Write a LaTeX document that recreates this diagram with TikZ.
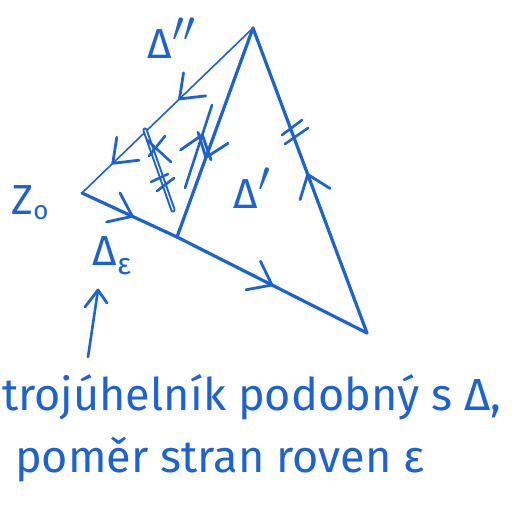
\documentclass[tikz,border=0pt]{standalone}
\usepackage{fontspec}
\setmainfont{Fira Sans}
\usetikzlibrary{arrows.meta,decorations.markings,calc}
\definecolor{ink}{RGB}{28,98,210}
\tikzset{
  edge/.style={ink,line width=3.2pt,line cap=round,line join=round},
  thinedge/.style={ink,line width=1.6pt,line cap=round},
  tick/.style={ink,line width=2.6pt,line cap=round},
  lbl/.style={ink,inner sep=0pt,font=\fontsize{42}{44}\selectfont},
  txt/.style={ink,inner sep=0pt,anchor=base west,font=\fontsize{45}{47}\selectfont},
  barb/.style={ink,line width=2.8pt,line cap=round,line join=round},
  midarr/.style={postaction={decorate},decoration={markings,
     mark=at position #1 with {\draw[barb] (-21pt,16pt) -- (0,0) -- (-21pt,-16pt);}}},
  twoarr/.style 2 args={postaction={decorate},decoration={markings,
     mark=at position #1 with {\draw[barb] (-21pt,16pt) -- (0,0) -- (-21pt,-16pt);},
     mark=at position #2 with {\draw[barb] (-21pt,16pt) -- (0,0) -- (-21pt,-16pt);}}},
}
\newcommand{\bigprime}[1]{\raisebox{2pt}{\scalebox{1.7}{$#1$}}}
\begin{document}
\begin{tikzpicture}[x=1pt,y=-1pt]
\useasboundingbox (0,0) rectangle (515,511);
% vertices
\coordinate (T) at (253,28);
\coordinate (Z) at (82,193);
\coordinate (M) at (177,237);
\coordinate (B) at (367,333);
% hatched segment and separate arrow
\coordinate (h1) at (145,130);
\coordinate (h2) at (173,210);
\coordinate (a1) at (185,188);
\coordinate (a2) at (212,105);
% edges
\draw[thinedge,twoarr={0.43}{0.82}] (T) -- (Z);
\draw[edge,midarr=0.53] (Z) -- (M);
\draw[edge,midarr=0.5] (M) -- (B);
\draw[edge,midarr=0.52] (B) -- (T);
\draw[edge,midarr=0.62] (T) -- (M);
\draw[edge,line width=2.6pt,midarr=0.64] (a1) -- (a2);
\draw[ink,line width=2pt,double=white,double distance=1.2pt,line cap=round] (h1) -- (h2);
% ticks on hatched segment
\coordinate (x1a) at (147,140); \coordinate (x1b) at (171,162);
\coordinate (x2a) at (149,156); \coordinate (x2b) at (165,136);
\coordinate (k1a) at (151,182); \coordinate (k1b) at (168,174);
\coordinate (k2a) at (157,191); \coordinate (k2b) at (174,178);
\draw[tick] (x1a) -- (x1b);
\draw[tick] (x2a) -- (x2b);
\draw[tick] (k1a) -- (k1b);
\draw[tick] (k2a) -- (k2b);
% double ticks on right edge
\coordinate (r1a) at (282,135); \coordinate (r1b) at (302,120);
\coordinate (r2a) at (285,144); \coordinate (r2b) at (308,128);
\draw[tick] (r1a) -- (r1b);
\draw[tick] (r2a) -- (r2b);
% labels
\node[lbl] (dpp) at (172,38) {Δ\bigprime{''}};
\node[lbl] (dp) at (252,188) {Δ\bigprime{'}};
\node[lbl] (de) at (112,256) {Δ\raisebox{-9pt}{\fontsize{30}{32}\selectfont ε}};
\node[lbl] (z0) at (30,203) {Z\raisebox{-5pt}{\fontsize{26}{28}\selectfont o}};
% pointer arrow
\coordinate (p1) at (88,357);
\coordinate (p2) at (98,290);
\coordinate (pb1) at (85,307);
\coordinate (pb2) at (107,303);
\draw[edge,line width=2.6pt] (p1) -- (p2);
\draw[barb] (pb1) -- (p2) -- (pb2);
% text
\node[txt] (t1) at (2,410) {trojúhelník podobný s Δ,};
\node[txt] (t2) at (15,472) {poměr stran roven ε};
\end{tikzpicture}
\end{document}
